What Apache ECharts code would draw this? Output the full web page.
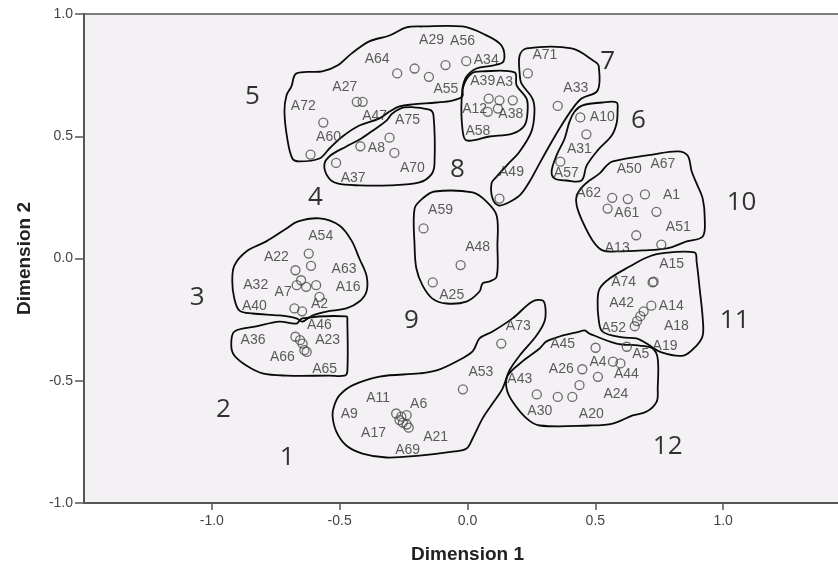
<!DOCTYPE html>
<html><head><meta charset="utf-8">
<script src="https://cdn.jsdelivr.net/npm/echarts@6/dist/echarts.min.js"></script>
<style>html,body{margin:0;padding:0;background:#fff}#c{width:838px;height:565px}</style>
</head><body><div id="c"></div>
<script>
// ---- data ----
const pointNames = ['A64','A29','A55','A56','A34','A27','A47','A72','A60',
  'A75','A8','A70','A37',
  'A39','A3','A38','A12','A58',
  'A71','A33','A49',
  'A10','A31','A57',
  'A62','A50','A67','A1','A61','A51','A13',
  'A15','A74','A14','A42','A18','A19','A52','A5',
  'A45','A4','A44','A26','A24','','A43','A30','A20',
  'A59','A48','A25',
  'A54','A63','A22','','A32','A7','A16','A2','A40','',
  'A46','A36','A23','A66','A65',
  'A11','A9','A6','A17','','A21','A69','A53','A73'];
const dim1 = [-0.275,-0.207,-0.151,-0.086,-0.005,-0.433,-0.410,-0.564,-0.614,
  -0.305,-0.419,-0.286,-0.514,
  0.083,0.125,0.177,0.079,0.119,
  0.236,0.353,0.125,
  0.441,0.465,0.363,
  0.548,0.566,0.694,0.739,0.627,0.758,0.660,
  0.728,0.724,0.719,0.689,0.676,0.663,0.654,0.623,
  0.501,0.569,0.598,0.449,0.510,0.438,0.271,0.353,0.410,
  -0.172,-0.027,-0.136,
  -0.621,-0.612,-0.673,-0.651,-0.668,-0.631,-0.592,-0.579,-0.677,-0.647,
  -0.673,-0.655,-0.645,-0.638,-0.629,
  -0.279,-0.259,-0.238,-0.266,-0.253,-0.238,-0.230,-0.018,0.132];
const dim2 = [0.757,0.777,0.743,0.791,0.807,0.641,0.641,0.556,0.425,
  0.494,0.459,0.432,0.391,
  0.654,0.647,0.647,0.600,0.613,
  0.757,0.624,0.245,
  0.577,0.508,0.396,
  0.204,0.248,0.262,0.191,0.243,0.057,0.095,
  -0.095,-0.098,-0.193,-0.216,-0.236,-0.256,-0.277,-0.361,
  -0.365,-0.422,-0.429,-0.453,-0.484,-0.518,-0.556,-0.566,-0.566,
  0.123,-0.027,-0.098,
  0.020,-0.030,-0.048,-0.089,-0.109,-0.116,-0.109,-0.157,-0.204,-0.216,
  -0.320,-0.334,-0.348,-0.375,-0.382,
  -0.634,-0.647,-0.641,-0.661,-0.671,-0.679,-0.692,-0.535,-0.348];

const clusterNames = ['1','2','3','4','5','6','7','8','9','10','11','12'];
const clusterLabelX = [-0.705,-0.955,-1.057,-0.595,-0.841,0.669,0.548,-0.039,-0.219,1.072,1.045,0.783];
const clusterLabelY = [-0.814,-0.618,-0.160,0.249,0.663,0.564,0.806,0.364,-0.254,0.229,-0.254,-0.769];

const outline1 = [[-0.521,-0.601],[-0.501,-0.560],[-0.450,-0.519],[-0.344,-0.483],[-0.188,-0.470],[-0.121,-0.458],[-0.043,-0.421],[0.020,-0.380],[0.047,-0.327],[0.098,-0.299],[0.176,-0.245],[0.254,-0.176],[0.294,-0.172],[0.305,-0.204],[0.301,-0.258],[0.270,-0.315],[0.204,-0.397],[0.164,-0.458],[0.137,-0.532],[0.098,-0.593],[0.059,-0.654],[0.020,-0.736],[-0.004,-0.777],[-0.051,-0.789],[-0.188,-0.806],[-0.317,-0.814],[-0.411,-0.798],[-0.474,-0.765],[-0.513,-0.708],[-0.528,-0.642]];
const outline2 = [[-0.912,-0.299],[-0.826,-0.278],[-0.736,-0.258],[-0.669,-0.266],[-0.646,-0.245],[-0.474,-0.237],[-0.470,-0.258],[-0.470,-0.462],[-0.481,-0.479],[-0.540,-0.479],[-0.708,-0.479],[-0.802,-0.470],[-0.865,-0.438],[-0.912,-0.397],[-0.924,-0.356]];
const outline3 = [[-0.665,0.151],[-0.579,0.164],[-0.501,0.135],[-0.454,0.074],[-0.423,0],[-0.395,-0.070],[-0.395,-0.135],[-0.423,-0.176],[-0.474,-0.204],[-0.552,-0.217],[-0.607,-0.233],[-0.646,-0.258],[-0.669,-0.245],[-0.736,-0.233],[-0.841,-0.225],[-0.892,-0.213],[-0.912,-0.164],[-0.920,-0.094],[-0.912,-0.029],[-0.865,0.029],[-0.787,0.070],[-0.708,0.123]];
const outline4 = [[-0.294,0.593],[-0.247,0.618],[-0.149,0.609],[-0.133,0.585],[-0.129,0.389],[-0.141,0.344],[-0.188,0.311],[-0.305,0.299],[-0.423,0.299],[-0.509,0.307],[-0.544,0.331],[-0.560,0.384],[-0.536,0.421],[-0.474,0.458],[-0.415,0.491],[-0.364,0.528],[-0.317,0.564]];
const outline5 = [[-0.669,0.757],[-0.568,0.765],[-0.509,0.789],[-0.454,0.838],[-0.384,0.888],[-0.305,0.912],[-0.239,0.945],[-0.176,0.949],[-0.020,0.949],[0.059,0.920],[0.133,0.871],[0.141,0.806],[0.098,0.789],[0.035,0.777],[-0.004,0.744],[-0.020,0.695],[-0.020,0.663],[-0.059,0.646],[-0.121,0.638],[-0.215,0.630],[-0.266,0.622],[-0.305,0.601],[-0.344,0.573],[-0.423,0.544],[-0.489,0.499],[-0.540,0.450],[-0.579,0.409],[-0.658,0.397],[-0.685,0.409],[-0.705,0.491],[-0.716,0.601],[-0.708,0.667],[-0.689,0.703]];
const outline6 = [[0.419,0.601],[0.450,0.626],[0.528,0.638],[0.583,0.638],[0.587,0.605],[0.583,0.552],[0.564,0.503],[0.509,0.442],[0.466,0.380],[0.446,0.319],[0.387,0.319],[0.341,0.327],[0.329,0.356],[0.348,0.421],[0.380,0.491],[0.399,0.560]];
const outline7 = [[0.204,0.830],[0.231,0.859],[0.407,0.859],[0.497,0.806],[0.513,0.789],[0.509,0.687],[0.446,0.654],[0.411,0.613],[0.360,0.532],[0.321,0.462],[0.282,0.389],[0.243,0.315],[0.204,0.258],[0.153,0.225],[0.121,0.217],[0.098,0.245],[0.094,0.307],[0.114,0.335],[0.153,0.380],[0.204,0.438],[0.250,0.519],[0.262,0.601],[0.254,0.654],[0.211,0.716],[0.204,0.757]];
const outline8 = [[0.016,0.757],[0.055,0.765],[0.184,0.761],[0.192,0.708],[0.231,0.654],[0.235,0.601],[0.223,0.544],[0.176,0.511],[0.086,0.499],[-0.004,0.483],[-0.020,0.532],[-0.023,0.654],[-0.012,0.716]];
const outline9 = [[-0.207,0.204],[-0.176,0.245],[-0.129,0.274],[0.020,0.270],[0.074,0.233],[0.114,0.176],[0.117,0.053],[0.114,-0.074],[0.086,-0.094],[0.059,-0.102],[0.047,-0.135],[-0.004,-0.176],[-0.082,-0.184],[-0.137,-0.164],[-0.176,-0.110],[-0.200,-0.041],[-0.207,0.053]];
const outline10 = [[0.427,0.258],[0.450,0.294],[0.477,0.319],[0.517,0.348],[0.544,0.380],[0.568,0.397],[0.724,0.425],[0.822,0.438],[0.861,0.421],[0.877,0.356],[0.896,0.307],[0.920,0.245],[0.928,0.164],[0.920,0.090],[0.857,0.070],[0.779,0.041],[0.685,0.033],[0.583,0.029],[0.528,0.033],[0.489,0.074],[0.450,0.151],[0.427,0.217]];
const outline11 = [[0.509,-0.172],[0.517,-0.123],[0.556,-0.082],[0.634,-0.033],[0.701,0.004],[0.751,0.020],[0.888,0.025],[0.896,-0.012],[0.908,-0.123],[0.920,-0.245],[0.920,-0.315],[0.896,-0.356],[0.845,-0.397],[0.759,-0.384],[0.701,-0.348],[0.661,-0.327],[0.607,-0.323],[0.528,-0.299],[0.513,-0.249]];
const outline12 = [[0.309,-0.339],[0.360,-0.319],[0.438,-0.299],[0.458,-0.294],[0.477,-0.307],[0.583,-0.348],[0.673,-0.356],[0.724,-0.368],[0.744,-0.409],[0.744,-0.532],[0.740,-0.585],[0.701,-0.626],[0.646,-0.642],[0.568,-0.675],[0.477,-0.683],[0.282,-0.683],[0.231,-0.654],[0.176,-0.585],[0.153,-0.532],[0.157,-0.479],[0.215,-0.421],[0.282,-0.368]];

// ---- style: label offsets (px) per point ----
const labelOffsets = [[-20,-14],[17,-28],[17,12],[17,-24],[20,-1],[-12,-15],[12,14],[-20,-16],[18,-17],
  [18,-18],[16,2],[18,15],[17,15],
  [-6,-17],[5,-18],[-2,14],[-13,-3],[-20,23],
  [17,-18],[18,-18],[12,-26],
  [22,0],[-7,15],[6,11],
  [-19,-15],[17,-29],[18,-30],[15,-17],[-1,14],[17,-17],[-19,13],
  [18,-18],[-29,0],[20,0],[-22,-8],[36,10],[28,25],[-21,2],[14,7],
  [-33,-4],[-15,0],[6,11],[-21,0],[18,17],[0,0],[-17,-15],[-18,14],[19,17],
  [17,-18],[17,-18],[19,13],
  [12,-17],[33,3],[-19,-13],[0,0],[-41,0],[-23,5],[32,2],[0,7],[-40,-2],[0,0],
  [24,-12],[-47,0],[25,-3],[-22,7],[18,17],
  [-18,-15],[-52,-3],[12,-11],[-26,13],[0,0],[29,13],[-1,22],[18,-17],[17,-17]];

const outlines = [outline1,outline2,outline3,outline4,outline5,outline6,outline7,outline8,outline9,outline10,outline11,outline12];

const pointData = pointNames.map((n, i) => ({
  name: n,
  value: [dim1[i], dim2[i]],
  label: { show: n !== '', offset: labelOffsets[i] }
}));
const clusterData = clusterNames.map((n, i) => ({ name: n, value: [clusterLabelX[i], clusterLabelY[i]] }));

const chart = echarts.init(document.getElementById('c'), null, { renderer: 'canvas' });
const axisTxt = { color: '#444', fontSize: 14, fontFamily: 'Liberation Sans, Arial, sans-serif' };
chart.setOption({
  animation: false,
  backgroundColor: '#ffffff',
  grid: { left: 84, top: 14, right: -13, bottom: 62, containLabel: false, outerBoundsMode: 'none', show: true,
          backgroundColor: '#f4f1f4', borderColor: '#555', borderWidth: 1.5 },
  xAxis: {
    type: 'value', min: -1.5, max: 1.5, interval: 0.5,
    name: 'Dimension 1', nameLocation: 'middle', nameGap: 42,
    nameTextStyle: { fontWeight: 'bold', fontSize: 19, color: '#222', fontFamily: 'Liberation Sans, Arial, sans-serif' },
    axisLine: { show: true, onZero: false, lineStyle: { color: '#555', width: 2 } },
    axisTick: { show: true, length: 7, lineStyle: { color: '#555', width: 1.5 } },
    axisLabel: Object.assign({ margin: 11, showMinLabel: false, showMaxLabel: false,
      formatter: v => v.toFixed(1) }, axisTxt),
    splitLine: { show: false }
  },
  yAxis: {
    type: 'value', min: -1, max: 1, interval: 0.5,
    name: 'Dimension 2', nameLocation: 'middle', nameGap: 50,
    nameTextStyle: { fontWeight: 'bold', fontSize: 19, color: '#222', fontFamily: 'Liberation Sans, Arial, sans-serif' },
    axisLine: { show: true, onZero: false, lineStyle: { color: '#555', width: 2 } },
    axisTick: { show: true, length: 9, lineStyle: { color: '#555', width: 1.5 } },
    axisLabel: Object.assign({ margin: 11, formatter: v => v.toFixed(1) }, axisTxt),
    splitLine: { show: false }
  },
  series: [
    {
      type: 'custom', silent: true, z: 1,
      data: outlines.map(o => o[0]),
      renderItem: function (params, api) {
        const pts = outlines[params.dataIndex].map(p => api.coord(p));
        return { type: 'polygon', shape: { points: pts, smooth: 0.35 },
                 style: { fill: 'none', stroke: '#0a0a0a', lineWidth: 1.8 } };
      }
    },
    {
      type: 'scatter', z: 3, silent: true,
      symbol: 'circle', symbolSize: 9,
      itemStyle: { color: 'rgba(0,0,0,0)', borderColor: '#4a4a4a', borderWidth: 1.3 },
      label: { show: true, position: 'inside', formatter: p => p.name,
               color: '#333', fontSize: 14, fontFamily: 'Liberation Sans, Arial, sans-serif' },
      emphasis: { disabled: true },
      data: pointData
    },
    {
      type: 'scatter', z: 4, silent: true, symbolSize: 0,
      label: { show: true, position: 'inside', formatter: p => p.name,
               color: '#000', fontSize: 26, fontFamily: 'Open Sans, sans-serif' },
      emphasis: { disabled: true },
      data: clusterData
    }
  ]
});
</script></body></html>
